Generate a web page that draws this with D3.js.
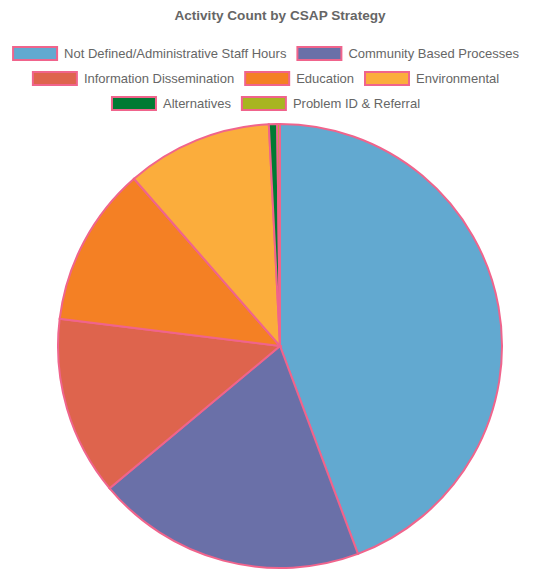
<!DOCTYPE html>
<html>
<head>
<meta charset="utf-8">
<script src="https://cdn.jsdelivr.net/npm/d3@7"></script>
<style>
  body { margin: 0; background: #fff; }
  svg { display: block; font-family: "Liberation Sans", Helvetica, Arial, sans-serif; }
</style>
</head>
<body>
<svg id="chart"></svg>
<script>
var width = 549, height = 570;

// data
var strategies = [
  "Not Defined/Administrative Staff Hours",
  "Community Based Processes",
  "Information Dissemination",
  "Education",
  "Environmental",
  "Alternatives",
  "Problem ID & Referral"
];
var counts = [221, 98, 65, 58, 53, 3, 1];
var colors = ["#62a9d0", "#6a70a8", "#de644d", "#f48024", "#fbad3c", "#007a33", "#a8b520"];

var data = strategies.map((s, i) => ({ strategy: s, count: counts[i] }));

var svg = d3.select("#chart")
    .attr("width", width)
    .attr("height", height);

// title
svg.append("text")
    .attr("x", 280)
    .attr("y", 20)
    .attr("text-anchor", "middle")
    .style("font-size", "13.6px")
    .style("font-weight", "bold")
    .attr("fill", "#666")
    .text("Activity Count by CSAP Strategy");

var colorScale = d3.scaleOrdinal()
    .domain(strategies)
    .range(colors);

// legend - lay out items in centered rows
var boxW = 44, boxH = 13, boxGap = 7, itemGap = 11, rowH = 25;
var legendCenter = 266, legendMax = 540;
var legend = svg.append("g");
var items = legend.selectAll(".item")
  .data(data)
  .enter()
  .append("g")
    .classed("item", true);

items.append("rect")
    .attr("width", boxW)
    .attr("height", boxH)
    .attr("fill", d => colorScale(d.strategy))
    .attr("stroke", "#f0648c")
    .attr("stroke-width", 2);

items.append("text")
    .attr("x", boxW + boxGap)
    .attr("y", boxH / 2)
    .attr("dy", "0.35em")
    .style("font-size", "13px")
    .attr("fill", "#666")
    .text(d => d.strategy);

var rows = [[]], rowWidths = [0];
items.each(function(d) {
  var w = boxW + boxGap + this.querySelector("text").getComputedTextLength();
  var r = rows.length - 1;
  var next = rowWidths[r] + (rows[r].length ? itemGap : 0) + w;
  if (rows[r].length && next > legendMax) {
    rows.push([]);
    rowWidths.push(0);
    r++;
    next = w;
  }
  rows[r].push({ node: this, w: w });
  rowWidths[r] = next;
});

rows.forEach((row, ri) => {
  var x = legendCenter - rowWidths[ri] / 2;
  row.forEach(it => {
    d3.select(it.node).attr("transform", `translate(${x}, ${47 + ri * rowH})`);
    x += it.w + itemGap;
  });
});

// pie
var radius = 222;
var arcs = d3.pie()
    .value(d => d.count)
    .sort(null)
    (data);

var path = d3.arc()
    .outerRadius(radius)
    .innerRadius(0);

svg.append("g")
    .attr("transform", `translate(280, 346)`)
  .selectAll(".arc")
  .data(arcs)
  .enter()
  .append("path")
    .classed("arc", true)
    .attr("fill", d => colorScale(d.data.strategy))
    .attr("stroke", "#f0648c")
    .attr("stroke-width", 2)
    .attr("d", path);
</script>
</body>
</html>
